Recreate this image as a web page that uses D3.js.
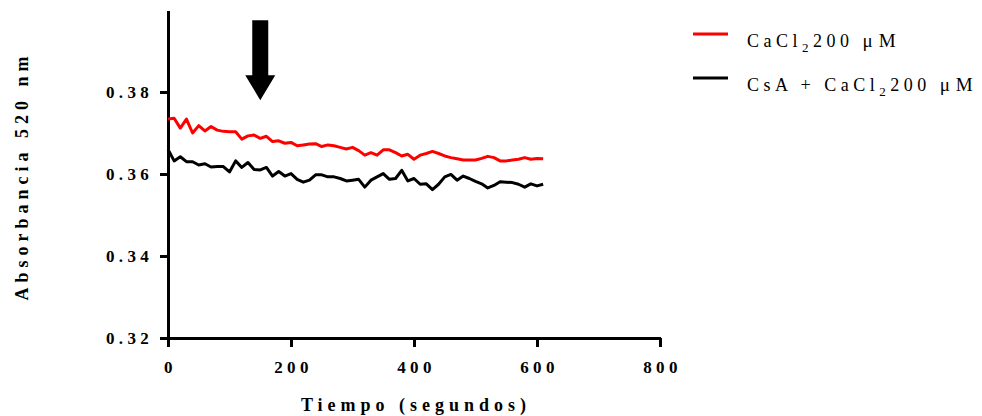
<!DOCTYPE html>
<html>
<head>
<meta charset="utf-8">
<script src="https://cdn.jsdelivr.net/npm/d3@7"></script>
<style>
  body { margin: 0; background: #fff; }
  svg { display: block; }
  .axis path, .axis line { stroke: #000; stroke-width: 2.6px; shape-rendering: crispEdges; }
  .axis text { font-family: 'Liberation Serif', serif; font-weight: bold; font-size: 17px; letter-spacing: 4.3px; fill: #000; }
  .title { font-family: 'Liberation Serif', serif; font-weight: bold; font-size: 18px; letter-spacing: 5px; fill: #000; }
  .legend text { font-family: 'Liberation Serif', serif; font-size: 18px; letter-spacing: 4.5px; fill: #000; }
  .line { fill: none; stroke-width: 3px; stroke-linejoin: round; }
</style>
</head>
<body>
<div id="chart"></div>
<script>
const WIDTH = 982;
const HEIGHT = 416;
const LEFT = 168;
const RIGHT = 660;
const TOP = 10;
const BOTTOM = 338;

// time in seconds, one reading every 10 s
const times = d3.range(0, 620, 10);

const cacl2 = [
  0.3734, 0.3736, 0.3712, 0.3734, 0.3700, 0.3718, 0.3705, 0.3716, 0.3707, 0.3704,
  0.3703, 0.3703, 0.3685, 0.3693, 0.3695, 0.3687, 0.3692, 0.3679, 0.3681, 0.3675,
  0.3677, 0.3669, 0.3671, 0.3673, 0.3674, 0.3667, 0.3671, 0.3669, 0.3665, 0.3661,
  0.3665, 0.3657, 0.3646, 0.3652, 0.3646, 0.3659, 0.3659, 0.3652, 0.3644, 0.3648,
  0.3636, 0.3646, 0.3650, 0.3655, 0.3650, 0.3644, 0.3640, 0.3637, 0.3634, 0.3634,
  0.3634, 0.3638, 0.3643, 0.3640, 0.3632, 0.3632, 0.3634, 0.3636, 0.3640, 0.3636,
  0.3638, 0.3637
];

const csaCacl2 = [
  0.3660, 0.3632, 0.3642, 0.3630, 0.3630, 0.3622, 0.3625, 0.3617, 0.3618, 0.3618,
  0.3605, 0.3632, 0.3616, 0.3628, 0.3611, 0.3610, 0.3616, 0.3595, 0.3606, 0.3595,
  0.3601, 0.3587, 0.3580, 0.3585, 0.3598, 0.3598, 0.3593, 0.3593, 0.3589, 0.3583,
  0.3585, 0.3587, 0.3568, 0.3585, 0.3593, 0.3601, 0.3587, 0.3589, 0.3609, 0.3583,
  0.3589, 0.3575, 0.3576, 0.3562, 0.3575, 0.3593, 0.3599, 0.3585, 0.3595, 0.3589,
  0.3582, 0.3576, 0.3566, 0.3572, 0.3581, 0.3580, 0.3579, 0.3575, 0.3568, 0.3576,
  0.3571, 0.3575
];

const xTicks = [0, 200, 400, 600, 800];
const yTicks = [0.32, 0.34, 0.36, 0.38];
const xDomain = [0, 800];
const yDomain = [0.32, 0.40];

// arrow marking the CaCl2 addition (time, from, to)
const arrowAt = { time: 150, from: 0.3975, to: 0.378 };

const series = [
  { name: ['CaCl', '2', '200 ', 'μM'], color: '#ff0000', values: cacl2 },
  { name: ['CsA + CaCl', '2', '200 ', 'μM'], color: '#000000', values: csaCacl2 }
];

let svg = d3.select('#chart').append('svg')
  .attr('width', WIDTH)
  .attr('height', HEIGHT);

const xScale = d3.scaleLinear().domain(xDomain).range([LEFT, RIGHT]);
const yScale = d3.scaleLinear().domain(yDomain).range([BOTTOM, TOP]);

function buildAxis() {
  let xAxis = d3.axisBottom(xScale)
    .tickValues(xTicks)
    .tickSize(9)
    .tickSizeOuter(0)
    .tickPadding(14)
    .tickFormat(d3.format('d'));

  let yAxis = d3.axisLeft(yScale)
    .tickValues(yTicks)
    .tickSize(8)
    .tickSizeOuter(0)
    .tickPadding(11)
    .tickFormat(d3.format('.2f'));

  svg.append('g')
    .attr('class', 'axis')
    .attr('transform', `translate(0, ${BOTTOM})`)
    .call(xAxis)
    .selectAll('text')
    .attr('dx', 2);

  svg.append('g')
    .attr('class', 'axis')
    .attr('transform', `translate(${LEFT}, 0)`)
    .call(yAxis)
    .selectAll('text')
    .attr('dx', 4);

  svg.selectAll('.axis text').attr('font-family', null).attr('font-size', null);

  svg.append('text')
    .attr('class', 'title')
    .attr('text-anchor', 'middle')
    .attr('x', (LEFT + RIGHT) / 2 + 2)
    .attr('y', 411)
    .text('Tiempo (segundos)');

  svg.append('text')
    .attr('class', 'title')
    .attr('text-anchor', 'middle')
    .attr('transform', `translate(28, ${(TOP + BOTTOM) / 2 + 2}) rotate(-90)`)
    .text('Absorbancia 520 nm');
}

function buildDataLines() {
  let line = d3.line()
    .x((d, i) => xScale(times[i]))
    .y((d) => yScale(d));

  series.forEach((s) => {
    svg.append('path')
      .datum(s.values)
      .attr('class', 'line')
      .attr('d', line)
      .style('stroke', s.color);
  });
}

function buildArrow() {
  let x = xScale(arrowAt.time);
  let y0 = yScale(arrowAt.from);
  let y1 = yScale(arrowAt.to);
  let shaft = 8, head = 15, headLen = 25;

  svg.append('path')
    .attr('d', d3.line()([
      [x - shaft, y0], [x + shaft, y0], [x + shaft, y1 - headLen],
      [x + head, y1 - headLen], [x, y1], [x - head, y1 - headLen],
      [x - shaft, y1 - headLen]
    ]) + 'Z')
    .attr('fill', '#000');
}

function buildLegend() {
  let legend = svg.append('g').attr('class', 'legend');

  series.forEach((s, i) => {
    let y = 34 + i * 44;
    legend.append('line')
      .attr('x1', 693).attr('x2', 728)
      .attr('y1', y).attr('y2', y)
      .attr('stroke', s.color)
      .attr('stroke-width', 3);

    let text = legend.append('text')
      .attr('x', 747)
      .attr('y', y + 13);
    text.append('tspan').text(s.name[0]);
    text.append('tspan').attr('dy', 5).attr('font-size', 13).text(s.name[1]);
    text.append('tspan').attr('dy', -5).text(s.name[2]);
    text.append('tspan').attr('font-size', 19).style('letter-spacing', '6px').text(s.name[3]);
  });
}

buildAxis();
buildDataLines();
buildArrow();
buildLegend();
</script>
</body>
</html>
